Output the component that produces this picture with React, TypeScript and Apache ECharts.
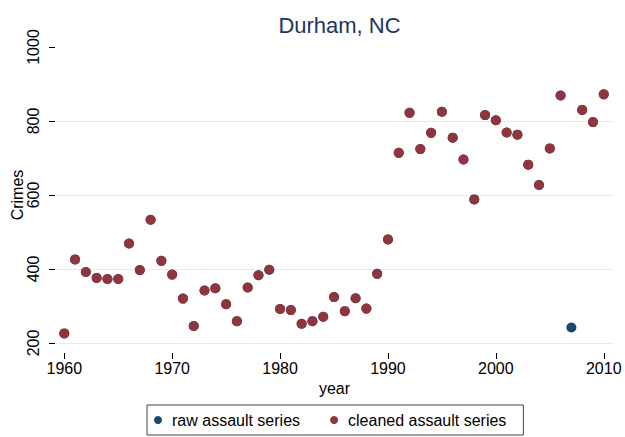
import React, { useEffect, useRef } from "react";
import * as echarts from "echarts";

const years: number[] = [
  1960, 1961, 1962, 1963, 1964, 1965, 1966, 1967, 1968, 1969,
  1970, 1971, 1972, 1973, 1974, 1975, 1976, 1977, 1978, 1979,
  1980, 1981, 1982, 1983, 1984, 1985, 1986, 1987, 1988, 1989,
  1990, 1991, 1992, 1993, 1994, 1995, 1996, 1997, 1998, 1999,
  2000, 2001, 2002, 2003, 2004, 2005, 2006, 2007, 2008, 2009, 2010,
];

const cleaned: (number | null)[] = [
  226, 426, 392, 376, 373, 373, 469, 397, 533, 422,
  385, 320, 246, 342, 348, 305, 259, 350, 383, 398,
  292, 289, 252, 259, 271, 324, 286, 321, 293, 387,
  480, 714, 822, 724, 768, 825, 755, 696, 588, 816,
  802, 769, 763, 682, 627, 726, 869, null, 830, 797, 872,
];

const raw: number[] = [
  226, 426, 392, 376, 373, 373, 469, 397, 533, 422,
  385, 320, 246, 342, 348, 305, 259, 350, 383, 398,
  292, 289, 252, 259, 271, 324, 286, 321, 293, 387,
  480, 714, 822, 724, 768, 825, 755, 696, 588, 816,
  802, 769, 763, 682, 627, 726, 869, 242, 830, 797, 872,
];

const xTicks: number[] = [1960, 1970, 1980, 1990, 2000, 2010];

const FONT = "'Liberation Sans', Arial, Helvetica, sans-serif";
const RED = "#90353b";
const BLUE = "#1a476f";

export default function App() {
  const ref = useRef<HTMLDivElement>(null);
  useEffect(() => {
    document.body.style.margin = "0";
    if (!ref.current) return;
    const chart = echarts.init(ref.current, undefined, { renderer: "svg" });
    const rawData = years.map((y, i) => [y, raw[i]]);
    const cleanedData = years
      .map((y, i) => [y, cleaned[i]])
      .filter((d) => d[1] !== null);
    chart.setOption({
      animation: false,
      backgroundColor: "#ffffff",
      textStyle: { fontFamily: FONT },
      title: {
        text: "Durham, NC",
        left: 334.5,
        top: 9,
        textAlign: "center",
        textStyle: {
          fontFamily: FONT,
          fontSize: 22,
          fontWeight: "normal",
          color: "#1e3461",
        },
      },
      legend: {
        data: ["raw assault series", "cleaned assault series"],
        left: 147,
        top: 405,
        orient: "horizontal",
        padding: [7, 17, 7, 7],
        itemWidth: 8,
        itemHeight: 8,
        itemGap: 30,
        icon: "circle",
        borderColor: "#444444",
        borderWidth: 1,
        textStyle: {
          fontFamily: FONT,
          fontSize: 16,
          color: "#000000",
          padding: [0, 0, 0, 5],
        },
      },
      grid: {
        left: 55,
        right: 11,
        top: 47,
        bottom: 94,
        containLabel: false,
        outerBoundsMode: "none",
      },
      xAxis: {
        type: "value",
        min: 1959.14,
        max: 2010.95,
        offset: 10,
        name: "year",
        nameLocation: "middle",
        nameGap: 25,
        nameTextStyle: { fontFamily: FONT, fontSize: 16, color: "#000000" },
        axisLine: { show: false },
        axisTick: {
          show: true,
          customValues: xTicks,
          length: 6,
          lineStyle: { color: "#000000", width: 1 },
        },
        axisLabel: {
          customValues: xTicks,
          margin: 7,
          fontFamily: FONT,
          fontSize: 16,
          color: "#000000",
          formatter: (v: number) => String(v),
        },
        splitLine: { show: false },
      },
      yAxis: {
        type: "value",
        min: 200,
        max: 1000,
        interval: 200,
        name: "Crimes",
        nameLocation: "middle",
        nameGap: 29.5,
        nameMoveOverlap: false,
        nameTextStyle: { fontFamily: FONT, fontSize: 16, color: "#000000" },
        axisLine: { show: false },
        axisTick: {
          show: true,
          length: 6,
          lineStyle: { color: "#000000", width: 1 },
        },
        axisLabel: {
          rotate: 90,
          margin: 14,
          fontFamily: FONT,
          fontSize: 16,
          color: "#000000",
          formatter: (v: number) => String(v),
        },
        splitLine: {
          show: true,
          showMaxLine: false,
          lineStyle: { color: "#e3ebee", width: 1 },
        },
      },
      series: [
        {
          name: "raw assault series",
          type: "scatter",
          data: rawData,
          symbol: "circle",
          symbolSize: 10,
          itemStyle: { color: BLUE, opacity: 1 },
        },
        {
          name: "cleaned assault series",
          type: "scatter",
          data: cleanedData,
          symbol: "circle",
          symbolSize: 10,
          itemStyle: { color: RED, opacity: 1 },
        },
      ],
    });
    return () => chart.dispose();
  }, []);
  return (
    <div
      ref={ref}
      style={{ position: "fixed", left: 0, top: 0, width: 625, height: 437 }}
    />
  );
}
